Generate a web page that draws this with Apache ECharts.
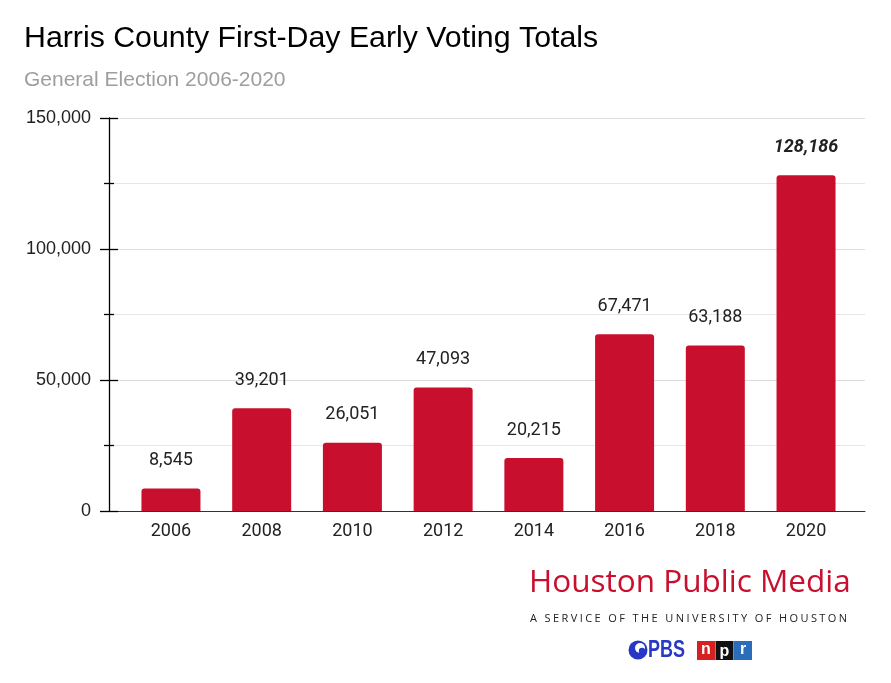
<!DOCTYPE html>
<html><head><meta charset="utf-8">
<script src="https://cdn.jsdelivr.net/npm/echarts@6/dist/echarts.min.js"></script>
<style>html,body{margin:0;padding:0;background:#fff}#c{width:891px;height:683px}</style>
</head><body><div id="c"></div>
<script>
const categories = ['2006','2008','2010','2012','2014','2016','2018','2020'];
const votes = [8545, 39201, 26051, 47093, 20215, 67471, 63188, 128186];
const yTicks = [0, 50000, 100000, 150000];

const SERVICE = 'A SERVICE OF THE UNIVERSITY OF HOUSTON';

const chart = echarts.init(document.getElementById('c'), null, {renderer:'canvas'});
const fmt = v => v.toLocaleString('en-US');
const RED = '#c8102e';
const yMin = yTicks[0], yMax = yTicks[yTicks.length-1], yStep = yTicks[1]-yTicks[0];

const barData = votes.map((v,i) => i === votes.length-1
  ? {value:v, label:{fontWeight:'bold', fontStyle:'italic'}}
  : v);

const tickStyle = {color:'#000', width:1.3};

// letter-spaced tagline built character by character
const SERVICE_FONT = 'normal 11px "Open Sans"';
const mctx = document.createElement('canvas').getContext('2d');
mctx.font = SERVICE_FONT;
const serviceChars = [];
(function(){
  let x = 530;
  const spacing = 2.4;
  for (const ch of SERVICE) {
    if (ch !== ' ') serviceChars.push({type:'text', x:x, y:618.5,
      style:{text:ch, fill:'#222', font:SERVICE_FONT, textVerticalAlign:'middle'}});
    x += mctx.measureText(ch).width + spacing;
  }
})();

chart.setOption({
  animation:false,
  backgroundColor:'#fff',
  title:[
    {text:'Harris County First-Day Early Voting Totals', left:19, top:19,
     textStyle:{fontFamily:'Liberation Sans', fontSize:30.3, fontWeight:'normal', color:'#000'}},
    {text:'General Election 2006-2020', left:19, top:65,
     textStyle:{fontFamily:'Liberation Sans', fontSize:21, fontWeight:'normal', color:'#9e9e9e'}}
  ],
  grid:[
    {left:109, right:26, top:118, bottom:172, containLabel:false},
    {left:125.6, right:39.6, top:118, bottom:172, containLabel:false}
  ],
  xAxis:[
    {gridIndex:0, type:'value', min:0, max:1, show:true,
     axisLine:{show:true, onZero:false, lineStyle:{color:'#333', width:1}},
     axisTick:{show:false}, axisLabel:{show:false}, splitLine:{show:false}},
    {gridIndex:1, type:'category', data:categories,
     axisLine:{show:false}, axisTick:{show:false},
     axisLabel:{fontFamily:'Roboto', fontSize:18, color:'#222', margin:11}}
  ],
  yAxis:[
    {gridIndex:0, type:'value', position:'left', min:yMin, max:yMax, interval:yStep,
     axisLine:{show:true, lineStyle:tickStyle},
     axisTick:{show:true, length:9, lineStyle:tickStyle},
     minorTick:{show:true, splitNumber:2, length:5, lineStyle:tickStyle},
     splitLine:{show:true, lineStyle:{color:'#dcdcdc'}},
     minorSplitLine:{show:true, lineStyle:{color:'#e6e6e6'}},
     axisLabel:{fontFamily:'Liberation Sans', fontSize:18, color:'#222', margin:18, formatter:v=>fmt(v)}},
    {gridIndex:0, type:'value', position:'left', min:yMin, max:yMax, interval:yStep,
     axisLine:{show:false},
     axisTick:{show:true, inside:true, length:9, lineStyle:tickStyle},
     minorTick:{show:true, splitNumber:2, length:5, lineStyle:tickStyle},
     splitLine:{show:false}, axisLabel:{show:false}},
    {gridIndex:1, type:'value', min:yMin, max:yMax, show:false}
  ],
  series:[{
    type:'bar', xAxisIndex:1, yAxisIndex:2, data:barData, barWidth:59,
    itemStyle:{color:RED, borderRadius:[3,3,0,0]},
    label:{show:true, position:'top', distance:19, fontFamily:'Roboto', fontSize:18, color:'#222',
      formatter:p=>fmt(p.value)}
  }],
  graphic:[
    {type:'text', left:529, top:567, style:{text:'Houston Public Media', fill:RED,
      font:'normal 31.5px "Open Sans"'}},
    ...serviceChars,
    {type:'circle', shape:{cx:638, cy:650, r:9.5}, style:{fill:'#2638c4'}},
    {type:'circle', shape:{cx:640, cy:648, r:5}, style:{fill:'#fff'}},
    {type:'circle', shape:{cx:642, cy:651, r:3.2}, style:{fill:'#2638c4'}},
    {type:'text', x:648, y:650, scaleY:1.35,
     style:{text:'PBS', fill:'#2638c4', font:'bold 18px "Liberation Sans"', textVerticalAlign:'middle'}},
    {type:'rect', shape:{x:697, y:641, width:18, height:19}, style:{fill:'#d62021'}},
    {type:'rect', shape:{x:715.5, y:641, width:18, height:19}, style:{fill:'#111'}},
    {type:'rect', shape:{x:734, y:641, width:18, height:19}, style:{fill:'#2a6ebb'}},
    {type:'text', x:706, y:650, style:{text:'n', fill:'#fff', font:'bold 16px "Liberation Sans"', textAlign:'center', textVerticalAlign:'middle'}},
    {type:'text', x:724.5, y:651.5, style:{text:'p', fill:'#fff', font:'bold 16px "Liberation Sans"', textAlign:'center', textVerticalAlign:'middle'}},
    {type:'text', x:743, y:650, style:{text:'r', fill:'#fff', font:'bold 16px "Liberation Sans"', textAlign:'center', textVerticalAlign:'middle'}}
  ]
});
</script></body></html>
